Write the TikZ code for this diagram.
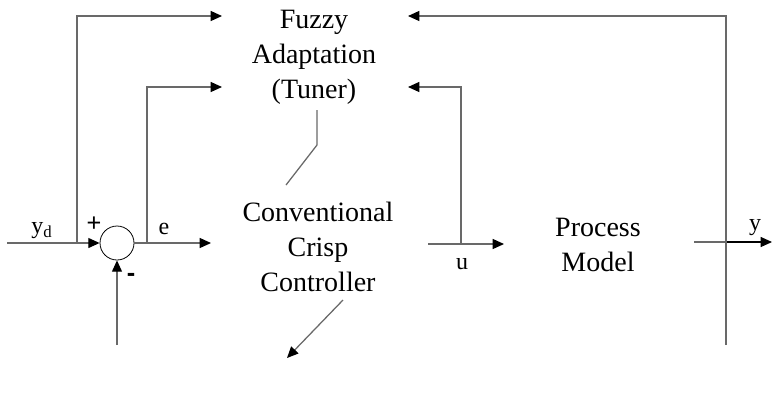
\documentclass[tikz,border=0pt]{standalone}
\usepackage{fontspec}
\setmainfont{Liberation Serif}
\newfontfamily\signfont{Liberation Sans}
\usetikzlibrary{arrows.meta}
\definecolor{lc}{RGB}{105,105,105}
\begin{document}
\begin{tikzpicture}[x=0.75pt,y=-0.75pt,
  ln/.style={draw=lc,line width=0.95pt},
  arr/.style={ln,-{Triangle[color=black,length=8.5pt,width=7.5pt]}},
  big/.style={font=\fontsize{21}{26.25}\selectfont,align=center,inner sep=0pt},
  lbl/.style={font=\fontsize{18}{21}\selectfont,inner sep=0pt},
  sgn/.style={inner sep=0pt,font=\fontsize{19}{22}\selectfont\signfont}]
\useasboundingbox (0,0) rectangle (773,412);
% blocks (text only)
\node[big] (fuzzy) at (314,57) {Fuzzy\\Adaptation\\(Tuner)};
\node[big] (conv) at (318,247) {Conventional\\Crisp\\Controller};
\node[big] (proc) at (598,245) {Process\\Model};
\node[draw=black,line width=0.6pt,circle,minimum size=25.5pt,inner sep=0pt] (sum) at (117,243) {};
% coordinates
\coordinate (in) at (7,243);
\coordinate (j1) at (77,243);
\coordinate (t1) at (77,16);
\coordinate (f1) at (222,16);
\coordinate (eout) at (211,243);
\coordinate (j2) at (147,243);
\coordinate (t2) at (147,87);
\coordinate (f2) at (222,87);
\coordinate (fb) at (117,345);
\coordinate (us) at (428,244);
\coordinate (ue) at (504,244);
\coordinate (j3) at (461,244);
\coordinate (t3) at (461,87);
\coordinate (f3) at (408,87);
\coordinate (ys) at (694,242);
\coordinate (ye) at (772,242);
\coordinate (j4) at (726,242);
\coordinate (t4) at (726,16);
\coordinate (f4) at (408,16);
\coordinate (b4) at (726,345);
\coordinate (d1) at (317,110);
\coordinate (d2) at (317,145);
\coordinate (d3) at (286,185);
\coordinate (a1) at (343,300);
\coordinate (a2) at (287,358);
% connectors
\draw[arr] (in) -- (sum.west);
\draw[arr] (j1) -- (t1) -- (f1);
\draw[arr] (sum.east) -- (eout);
\draw[arr] (j2) -- (t2) -- (f2);
\draw[arr] (fb) -- (sum.south);
\draw[arr] (us) -- (ue);
\draw[arr] (j3) -- (t3) -- (f3);
\draw[ln] (ys) -- (j4);
\draw[line width=0.8pt,draw=black,-{Triangle[length=8.5pt,width=7.5pt]}] (j4) -- (ye);
\draw[arr] (b4) -- (t4) -- (f4);
\draw[ln] (d1) -- (d2) -- (d3);
\draw[ln,-{Triangle[color=black,length=8.5pt,width=7.5pt]}] (a1) -- (a2);
% labels
\node[lbl] (lyd) at (42,231) {y\textsubscript{d}};
\node[sgn] (lplus) at (94,224) {+};
\node[sgn,font=\fontsize{19}{22}\selectfont\signfont\bfseries] (lminus) at (131,277) {-};
\node[lbl] (le) at (164,229) {e};
\node[lbl] (lu) at (462,264) {u};
\node[lbl] (ly) at (755,228) {y};
\end{tikzpicture}
\end{document}
